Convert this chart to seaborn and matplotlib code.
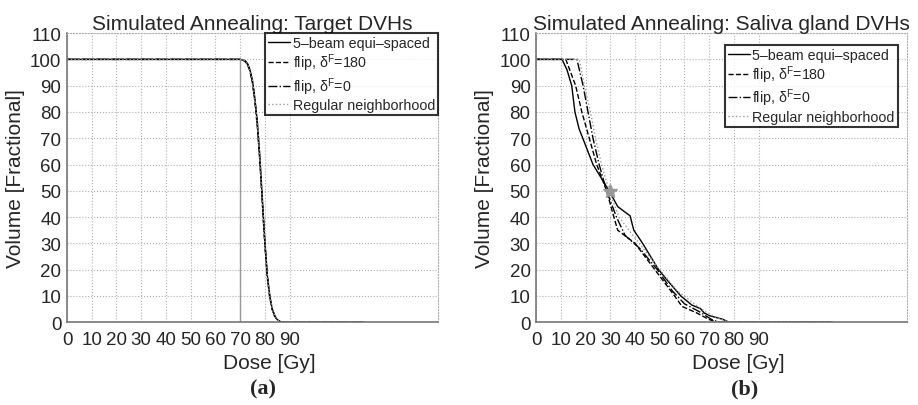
import matplotlib
matplotlib.use("Agg")
import matplotlib.pyplot as plt
import seaborn as sns
import pandas as pd

# ---- data ----
labels = ["5\u2013beam equi\u2013spaced", "flip, \u03b4$^{\\rm F}$=180",
          "flip, \u03b4$^{\\rm F}$=0", "Regular neighborhood"]

# target DVHs (a)
t_dose = [0, 70, 72, 73, 74, 75, 76, 77, 78, 79, 80, 81, 82, 83, 84, 85, 86, 87, 120]
t_equi = [100, 100, 99.5, 98.5, 96, 92, 85, 76, 63, 47, 31, 18, 10, 5, 2.5, 1, 0.3, 0, 0]
t_f180 = [100, 100, 99.3, 98, 95.5, 91, 84, 74, 61, 45, 30, 17, 9.5, 4.8, 2.3, 0.9, 0.3, 0, 0]
t_f0 = [100, 100, 99.4, 98.2, 95.8, 91.5, 84.5, 75, 62, 46, 30.5, 17.5, 9.8, 5, 2.4, 1, 0.3, 0, 0]
t_reg = [100, 100, 99.5, 98.4, 96, 92, 85, 75.5, 62.5, 46.5, 31, 18, 10, 5, 2.5, 1, 0.3, 0, 0]

# saliva gland DVHs (b)
s_equi_dose = [0, 10.5, 12.5, 14.4, 15.7, 17.4, 19, 23, 29.5, 33, 36.5, 38, 39.5, 42.8,
               49.4, 53, 58.5, 63, 66.4, 68, 70.4, 75.5, 78, 120]
s_equi_vol = [100, 100, 96, 90, 80, 73.5, 69.7, 60, 50, 44, 41.5, 40.5, 35, 30.4,
              20.2, 16, 10, 6.5, 5.2, 3.5, 2.4, 1.1, 0, 0]
s_f180_dose = [0, 12, 16, 18.5, 21.5, 24.5, 28.5, 31.3, 33, 40, 48, 56, 59, 65, 70, 73, 120]
s_f180_vol = [100, 100, 90, 80, 70, 60, 50, 40.5, 35, 30, 20, 10, 6, 3.5, 1, 0, 0]
s_f0_dose = [0, 16.5, 19, 21, 23, 25.5, 28.5, 32.5, 36, 42, 49, 55, 60, 66, 71, 74, 120]
s_f0_vol = [100, 100, 90, 80, 70, 60, 50, 40, 33, 28, 20, 12, 7, 4, 1, 0, 0]
s_reg_dose = [0, 17.5, 19.5, 22, 24, 26.5, 29.5, 33.5, 40, 50, 57, 64, 70, 75, 78, 120]
s_reg_vol = [100, 100, 90, 80, 70, 60, 50, 40, 32, 20, 12, 7, 3, 1, 0, 0]

xticks = [0, 10, 20, 30, 40, 50, 60, 70, 80, 90]
yticks = [0, 10, 20, 30, 40, 50, 60, 70, 80, 90, 100, 110]

styles = [("-", "black"), ("--", "black"), ("-.", "black"), (":", "#999999")]

sns.set_style("white")
plt.rcParams["font.family"] = ["Liberation Sans", "DejaVu Sans"]
plt.rcParams["mathtext.fontset"] = "custom"
plt.rcParams["mathtext.rm"] = "Liberation Sans"
plt.rcParams["mathtext.it"] = "Liberation Sans"

fig = plt.figure(figsize=(9.18, 4.06), dpi=100)
ax1 = fig.add_axes([0.073, 0.204, 0.404, 0.712])
ax2 = fig.add_axes([0.584, 0.204, 0.404, 0.712])


def draw(ax, series, title, tag, tag_x, legend_anchor):
    for (x, y), lab, (ls, col) in zip(series, labels, styles):
        df = pd.DataFrame({"dose": x, "vol": y})
        sns.lineplot(data=df, x="dose", y="vol", ax=ax, color=col,
                     linestyle=ls, linewidth=1.0, label=lab, sort=False)
    ax.set_xlim(0, 150)
    ax.set_ylim(0, 110)
    ax.set_xticks(xticks)
    ax.set_yticks(yticks)
    ax.grid(True, linestyle=":", color="#b0b0b0", linewidth=0.8)
    ax.tick_params(labelsize=13.5, length=0)
    ax.tick_params(axis="x", pad=6)
    ax.tick_params(axis="y", pad=4)
    for s in ["left", "bottom"]:
        ax.spines[s].set_color("#777777")
        ax.spines[s].set_linewidth(1.2)
    for s in ["top", "right"]:
        ax.spines[s].set_linestyle(":")
        ax.spines[s].set_color("#b0b0b0")
    ax.set_title(title, fontsize=15, pad=3)
    ax.set_xlabel("Dose [Gy]", fontsize=15)
    ax.set_ylabel("Volume [Fractional]", fontsize=15)
    ax.xaxis.set_label_coords(0.545, -0.105)
    ax.yaxis.set_label_coords(-0.113, 0.5)
    fig.text(tag_x, 0.04, tag, ha="center", va="center",
             fontsize=16, fontweight="bold", family="Liberation Serif")
    leg = ax.legend(loc="upper right", bbox_to_anchor=legend_anchor, fontsize=10.3,
                    frameon=True, fancybox=False, handlelength=1.5,
                    handletextpad=0.2, borderpad=0.2, labelspacing=0.12,
                    borderaxespad=0)
    leg.get_frame().set_edgecolor("black")
    leg.get_frame().set_linewidth(1.5)


draw(ax1, [(t_dose, t_equi), (t_dose, t_f180), (t_dose, t_f0), (t_dose, t_reg)],
     "Simulated Annealing: Target DVHs", "(a)", 263 / 918, (1.0, 1.0))
ax1.plot([70, 70], [0, 100], color="#999999", linewidth=1)

draw(ax2, [(s_equi_dose, s_equi_vol), (s_f180_dose, s_f180_vol),
           (s_f0_dose, s_f0_vol), (s_reg_dose, s_reg_vol)],
     "Simulated Annealing: Saliva gland DVHs", "(b)", 745 / 918, (0.975, 0.96))
ax2.plot([30], [50], marker="*", color="#999999", markersize=10, linestyle="none")

fig.savefig("out.png", dpi=100)
